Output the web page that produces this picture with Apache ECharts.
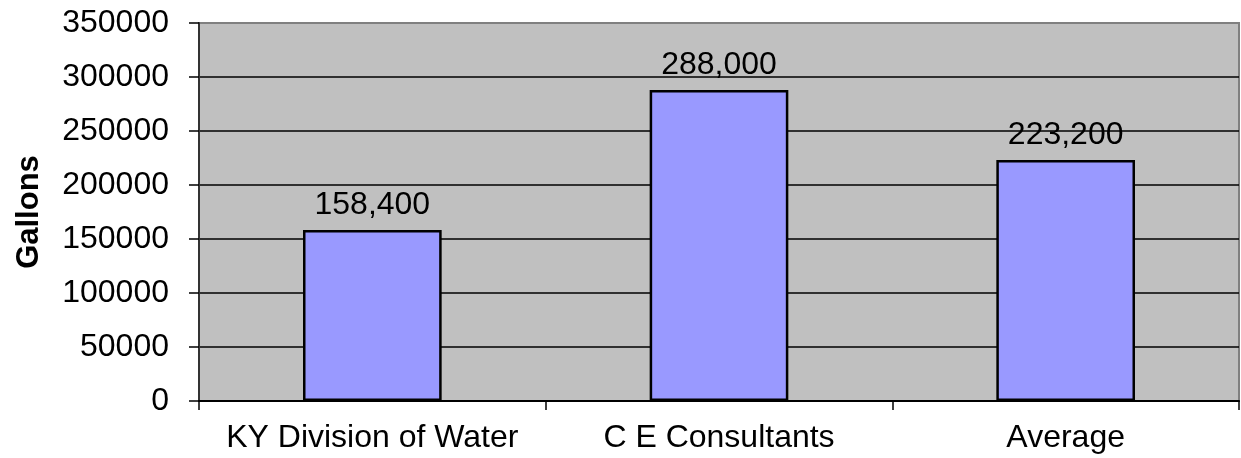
<!DOCTYPE html>
<html>
<head>
<meta charset="utf-8">
<script src="https://cdn.jsdelivr.net/npm/echarts@6/dist/echarts.min.js"></script>
<style>html,body{margin:0;padding:0;background:#fff}#c{width:1241px;height:458px}</style>
</head>
<body>
<div id="c"></div>
<script>
const categories = ['KY Division of Water', 'C E Consultants', 'Average'];
const values = [158400, 288000, 223200];
const yTicks = [0, 50000, 100000, 150000, 200000, 250000, 300000, 350000];
const yAxisName = 'Gallons';

const chart = echarts.init(document.getElementById('c'));
const font = "'Liberation Sans', Arial, sans-serif";
chart.setOption({
  animation: false,
  grid: {left: 199, right: 2, top: 23, bottom: 57, outerBoundsMode: 'none', containLabel: false,
    show: true, backgroundColor: '#C0C0C0', borderColor: '#808080', borderWidth: 2},
  xAxis: {
    type: 'category', data: categories,
    axisLine: {lineStyle: {color: '#000', width: 2}},
    axisTick: {show: true, interval: 0, length: 9, lineStyle: {color: '#000', width: 1.5}},
    axisLabel: {interval: 0, color: '#000', fontSize: 32, fontFamily: font, margin: 21},
    splitLine: {show: false}
  },
  yAxis: {
    type: 'value', min: yTicks[0], max: yTicks[yTicks.length - 1], interval: 50000,
    name: yAxisName, nameLocation: 'middle', nameGap: 154, nameRotate: 90,
    nameTextStyle: {color: '#000', fontSize: 31, fontWeight: 'bold', fontFamily: font},
    axisLine: {show: true, lineStyle: {color: '#333', width: 2}},
    axisTick: {show: true, length: 10, lineStyle: {color: '#000', width: 1.5}},
    axisLabel: {color: '#000', fontSize: 32, fontFamily: font, margin: 30, formatter: v => String(v)},
    splitLine: {show: true, showMaxLine: false, showMinLine: false, lineStyle: {color: '#000', width: 1.5}}
  },
  series: [{
    type: 'bar', data: values, barCategoryGap: '60%',
    itemStyle: {color: '#9999FF', borderColor: '#000', borderWidth: 2.5},
    label: {show: true, position: 'top', distance: 9, color: '#000', fontSize: 32, fontFamily: font,
      formatter: p => p.value.toLocaleString('en-US')}
  }]
});
</script>
</body>
</html>
